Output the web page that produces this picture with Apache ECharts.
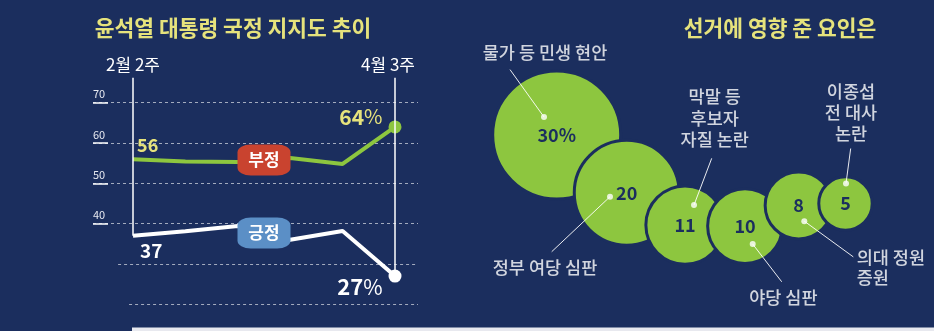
<!DOCTYPE html>
<html>
<head>
<meta charset="utf-8">
<script src="https://cdn.jsdelivr.net/npm/echarts@6/dist/echarts.min.js"></script>
<style>
  html, body { margin: 0; padding: 0; background: #1b2e5e; }
  #chart { width: 934px; height: 331px; }
</style>
</head>
<body>
<div id="chart"></div>
<script>
// ---- Approval trend: weeks counted from 2월 2주 ----
const weekIndex = [0, 2, 4, 6, 8, 10];
const weekTickLabels = ['2월 2주', '4월 3주'];
const negativeRates = [56, 55.4, 55.3, 56.3, 54.8, 64];
const positiveRates = [37, 38.1, 39.4, 36, 38.2, 27];
const yTickValues = [40, 50, 60, 70];
const guideValues = [20, 30, 40, 50, 60, 70];

// ---- Factors behind the election result (%) ----
const factorNames = ['물가 등 민생 현안', '정부 여당 심판', '막말 등\n후보자\n자질 논란', '야당 심판', '의대 정원\n증원', '이종섭\n전 대사\n논란'];
const factorShares = [30, 20, 11, 10, 8, 5];

// ---- Styling ----
const NAVY = '#1b2e5e';
const LIME = '#8dc63f';
const PALE = '#e6e37c';
const FONT = '"Noto Sans CJK KR", "Noto Sans", sans-serif';

// Bubble chain layout: each bubble sits against the previous one
const bubbleScale = 11.5;              // radius per sqrt(share)
const chainStart = [556.7, 135];
const chainSteps = [                   // [direction in degrees, overlap px]
  [39.5, 23.7], [29, 22.9], [1, 14.5], [-21, 11.4], [-2.4, 11.4]
];
const radius = v => bubbleScale * Math.sqrt(v);
const centers = [chainStart];
for (let i = 1; i < factorShares.length; i++) {
  const prev = centers[i - 1];
  const d = radius(factorShares[i - 1]) + radius(factorShares[i]) - chainSteps[i - 1][1];
  const a = chainSteps[i - 1][0] * Math.PI / 180;
  centers.push([prev[0] + d * Math.cos(a), prev[1] + d * Math.sin(a)]);
}

// Callouts: dot inside the bubble, leader line, caption offset
const callouts = [
  { dot: [-12.7, -18], lead: [-34, -47.4], text: [35, -17], align: 'center', lh: 20 },
  { dot: [-16.7, 4], lead: [-58.3, 55], text: [-6.7, 15.8], align: 'center', lh: 20 },
  { dot: [9, -20], lead: [17.7, -46.7], text: [3, -40], align: 'center', lh: 21.5 },
  { dot: [7.7, 18], lead: [29, 37.7], text: [1.6, 15.6], align: 'center', lh: 20 },
  { dot: [5.6, 15.7], lead: [49, 35.7], text: [3.4, 10.3], align: 'left', lh: 19.5 },
  { dot: [0.5, -20], lead: [4.7, -35], text: [0.3, -36.3], align: 'center', lh: 21 }
];

const dotPts = centers.map((c, i) => [c[0] + callouts[i].dot[0], c[1] + callouts[i].dot[1]]);
const endPts = dotPts.map((p, i) => [p[0] + callouts[i].lead[0], p[1] + callouts[i].lead[1]]);

// Trend axes
const yMin = 20, yMax = 76.2;
const xMin = -1.527, xMax = 10.878;
const last = weekIndex.length - 1;
// left end of each dashed guide (in week units); the lower guides start further in
const guideStart = { 20: -0.15, 30: -0.57, 40: xMin, 50: xMin, 60: xMin, 70: xMin };

function trendPoint(vals, i, labelCfg, endColor) {
  const item = { value: [weekIndex[i], vals[i]], symbolSize: 0 };
  if (i === last) { item.symbolSize = 13; item.itemStyle = { color: endColor }; }
  if (labelCfg) item.label = Object.assign({ show: true, fontFamily: FONT }, labelCfg);
  return item;
}

const negData = negativeRates.map((v, i) => trendPoint(negativeRates, i,
  i === 0 ? { position: 'right', distance: 4, offset: [0, -14], formatter: '{n|' + v + '}',
              rich: { n: { fontSize: 18, fontWeight: 'bold', color: PALE, fontFamily: FONT } } } :
  i === last ? { position: 'left', distance: 6, offset: [0, -10], formatter: '{n|' + v + '}{p|%}',
              rich: { n: { fontSize: 21, fontWeight: 'bold', color: PALE, fontFamily: FONT },
                      p: { fontSize: 20, color: PALE, fontFamily: FONT } } } : null, LIME));

const posData = positiveRates.map((v, i) => trendPoint(positiveRates, i,
  i === 0 ? { position: 'right', distance: 7, offset: [0, 15], formatter: '{n|' + v + '}',
              rich: { n: { fontSize: 19, fontWeight: 'bold', color: '#ffffff', fontFamily: FONT } } } :
  i === last ? { position: 'left', distance: 6, offset: [0, 11], formatter: '{n|' + v + '}{p|%}',
              rich: { n: { fontSize: 22, fontWeight: 'bold', color: '#ffffff', fontFamily: FONT },
                      p: { fontSize: 21, color: '#ffffff', fontFamily: FONT } } } : null, '#ffffff'));

const mid = (vals) => [(weekIndex[2] + weekIndex[3]) / 2, (vals[2] + vals[3]) / 2];

const chart = echarts.init(document.getElementById('chart'), null, { renderer: 'canvas' });

chart.setOption({
  backgroundColor: NAVY,
  animation: false,
  textStyle: { fontFamily: FONT },
  graphic: [
    { type: 'text', x: 233, y: 28, style: { text: '윤석열 대통령 국정 지지도 추이', fill: PALE, font: 'bold 21.5px ' + FONT, textAlign: 'center', textVerticalAlign: 'middle' } },
    { type: 'text', x: 780, y: 28, style: { text: '선거에 영향 준 요인은', fill: PALE, font: 'bold 21.5px ' + FONT, textAlign: 'center', textVerticalAlign: 'middle' } },
    { type: 'rect', shape: { x: 132, y: 327.5, width: 802, height: 4 }, style: { fill: '#e8e9ef' }, silent: true }
  ],
  grid: [
    { left: 93, top: 77.7, width: 325, height: 226.6 },
    { left: 0, top: 0, width: 934, height: 331 }
  ],
  xAxis: [
    {
      gridIndex: 0, type: 'value', min: xMin, max: xMax, position: 'top',
      axisLine: { show: false }, axisTick: { show: false }, splitLine: { show: false },
      axisLabel: {
        customValues: [weekIndex[0], weekIndex[last]], margin: 5,
        color: '#ffffff', fontSize: 17, fontFamily: FONT,
        formatter: v => v === weekIndex[0] ? weekTickLabels[0] : '{r|' + weekTickLabels[1] + '}',
        rich: { r: { padding: [0, 14, 0, 0], color: '#ffffff', fontSize: 17, fontFamily: FONT } }
      }
    },
    { gridIndex: 1, type: 'value', min: 0, max: 934, show: false }
  ],
  yAxis: [
    {
      // labelled scale with short solid ticks under the numbers
      gridIndex: 0, type: 'value', min: yMin, max: yMax, interval: 10,
      axisLine: { show: false, onZero: false },
      axisTick: { show: true, inside: true, length: 15, customValues: yTickValues, lineStyle: { color: '#ffffff', width: 1.5 } },
      axisLabel: {
        customValues: yTickValues, inside: true, margin: 0, verticalAlign: 'bottom',
        padding: [0, 0, 3, 0], color: '#e6e8f0', fontSize: 11, fontFamily: FONT
      },
      splitLine: { show: false }
    },
    { gridIndex: 1, type: 'value', min: 0, max: 331, inverse: true, show: false }
  ],
  series: [
    {
      name: '부정', type: 'line', xAxisIndex: 0, yAxisIndex: 0,
      data: negData, symbol: 'circle', showSymbol: true, z: 3,
      lineStyle: { color: LIME, width: 4 }, itemStyle: { color: LIME },
      markLine: {
        silent: true, symbol: 'none', label: { show: false }, z: 1,
        lineStyle: { color: 'rgba(255,255,255,0.6)', width: 1, type: [3, 3] },
        data: guideValues.map(v => [{ coord: [guideStart[v], v] }, { coord: [xMax, v] }])
      },
      markPoint: {
        symbol: 'roundRect', symbolSize: [53, 31], silent: true,
        itemStyle: { color: '#c9432f' },
        label: { show: true, formatter: '{b}', color: '#ffffff', fontSize: 17, fontWeight: 'bold', fontFamily: FONT },
        data: [{ name: '부정', coord: mid(negativeRates) }]
      }
    },
    {
      name: '긍정', type: 'line', xAxisIndex: 0, yAxisIndex: 0,
      data: posData, symbol: 'circle', showSymbol: true, z: 4,
      lineStyle: { color: '#ffffff', width: 4 }, itemStyle: { color: '#ffffff' },
      markLine: {
        silent: true, symbol: 'none', label: { show: false },
        lineStyle: { color: '#ffffff', width: 1.5, type: 'solid' },
        data: [
          [{ coord: [weekIndex[0], yMax] }, { coord: [weekIndex[0], positiveRates[0]] }],
          [{ coord: [weekIndex[last], yMax] }, { coord: [weekIndex[last], positiveRates[last]] }]
        ]
      },
      markPoint: {
        symbol: 'roundRect', symbolSize: [53, 31], silent: true,
        itemStyle: { color: '#5b8fc6' },
        label: { show: true, formatter: '{b}', color: '#ffffff', fontSize: 17, fontWeight: 'bold', fontFamily: FONT },
        data: [{ name: '긍정', coord: mid(positiveRates) }]
      }
    },
    {
      name: '요인', type: 'scatter', xAxisIndex: 1, yAxisIndex: 1, z: 2,
      data: factorShares.map((v, i) => ({ name: factorNames[i], value: [centers[i][0], centers[i][1], v] })),
      symbolSize: val => 2 * radius(val[2]) + 2,
      itemStyle: { color: LIME, borderColor: NAVY, borderWidth: 3, opacity: 1 },
      label: {
        show: true, position: 'inside', color: NAVY, fontSize: 18, fontWeight: 'bold', fontFamily: FONT,
        formatter: p => p.dataIndex === 0 ? p.value[2] + '%' : String(p.value[2])
      }
    },
    {
      name: 'leader', type: 'lines', coordinateSystem: 'cartesian2d', xAxisIndex: 1, yAxisIndex: 1, z: 5,
      silent: true, polyline: false,
      lineStyle: { color: '#ffffff', width: 1, opacity: 0.9 },
      data: dotPts.map((p, i) => ({ coords: [p, endPts[i]] }))
    },
    {
      name: 'dot', type: 'scatter', xAxisIndex: 1, yAxisIndex: 1, z: 6, silent: true,
      symbolSize: 6, itemStyle: { color: '#ffffff' },
      data: dotPts
    },
    {
      name: 'caption', type: 'scatter', xAxisIndex: 1, yAxisIndex: 1, z: 6, silent: true,
      symbolSize: 0,
      data: endPts.map((p, i) => ({
        value: p, name: factorNames[i],
        label: {
          show: true, position: 'inside', formatter: '{b}',
          offset: callouts[i].text, align: callouts[i].align, verticalAlign: 'middle',
          color: '#ffffff', fontSize: 17.5, fontWeight: 500, lineHeight: callouts[i].lh, fontFamily: FONT
        }
      }))
    }
  ]
});
</script>
</body>
</html>
